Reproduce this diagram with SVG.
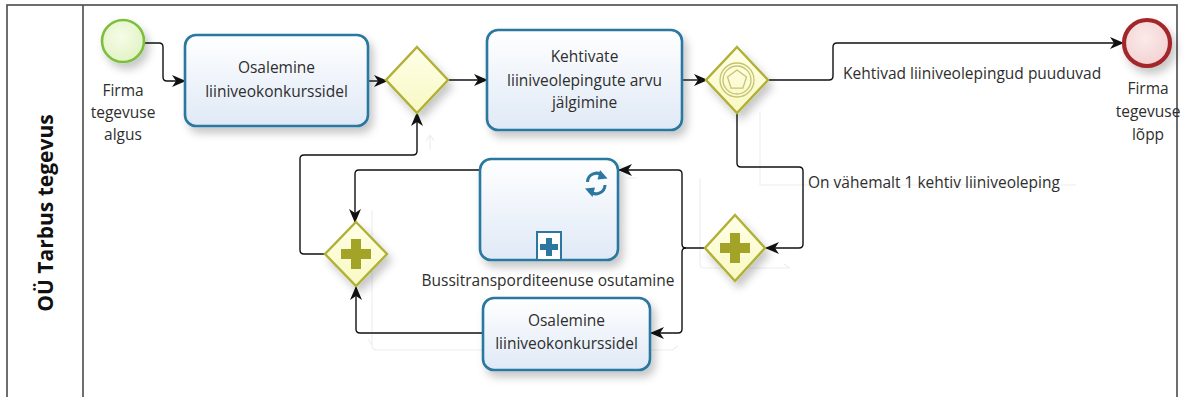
<svg xmlns="http://www.w3.org/2000/svg" width="1184" height="397" viewBox="0 0 1184 397">
  <defs>
    <style>
      .lbl { font-family: "Open Sans", "Noto Sans", sans-serif; font-size: 15.5px; fill: #2e2e2e; }
      .task { fill: url(#taskFill); stroke: #2b77a0; stroke-width: 2.6; filter: url(#shadow); }
      .gw { fill: url(#gwFill); stroke: #b0b036; stroke-width: 2.4; filter: url(#shadow); }
      .plus { fill: #a3a328; }
      .flow { fill: none; stroke: #111; stroke-width: 1.4; marker-end: url(#arrow); }
      .ghost { fill: none; stroke: #eceef1; stroke-width: 1.2; }
    </style>
    <linearGradient id="taskFill" x1="0" y1="0" x2="0" y2="1">
      <stop offset="0" stop-color="#ffffff"/>
      <stop offset="1" stop-color="#dfe9f6"/>
    </linearGradient>
    <linearGradient id="gwFill" x1="0" y1="0" x2="0" y2="1">
      <stop offset="0" stop-color="#ffffe8"/>
      <stop offset="1" stop-color="#f8f8c4"/>
    </linearGradient>
    <radialGradient id="startFill" cx="0.45" cy="0.4" r="0.6">
      <stop offset="0" stop-color="#f6fce8"/>
      <stop offset="1" stop-color="#e2f3c4"/>
    </radialGradient>
    <radialGradient id="endFill" cx="0.45" cy="0.4" r="0.6">
      <stop offset="0" stop-color="#fbeaea"/>
      <stop offset="1" stop-color="#f3d2d2"/>
    </radialGradient>
    <filter id="shadow" x="-20%" y="-20%" width="150%" height="160%">
      <feDropShadow dx="4" dy="6" stdDeviation="4" flood-color="#000" flood-opacity="0.22"/>
    </filter>
    <marker id="arrow" viewBox="0 0 14 12" refX="13" refY="6" markerWidth="14" markerHeight="12" markerUnits="userSpaceOnUse" orient="auto">
      <path d="M0,0 L14,6 L0,12 L4,6 z" fill="#111"/>
    </marker>
  </defs>

  <rect width="1184" height="397" fill="#fff"/>

  <!-- pool and lane header -->
  <g id="pool">
    <rect x="7" y="5" width="1170" height="400" fill="none" stroke="#4a4a4a" stroke-width="1.6"/>
    <line x1="83" y1="5" x2="83" y2="397" stroke="#4a4a4a" stroke-width="1.6"/>
    <text transform="translate(53,213) rotate(-90)" text-anchor="middle" font-family="'Open Sans', 'Noto Sans', sans-serif" font-size="21" font-weight="bold" fill="#111">OÜ Tarbus tegevus</text>
  </g>

  <!-- faint background routing -->
  <g id="ghosts">
    <path class="ghost" d="M430,150 V135 M430,135 l-4,6 M430,135 l4,6"/>
    <path class="ghost" d="M372,170 H620 M636,178 h-8 M700,178 V264 Q700,268 704,268 H790 M790,268 l-6,-4"/>
    <path class="ghost" d="M372,210 V345 Q372,350 377,350 H672 M372,345 l-4,-6 M672,350 l6,-4"/>
    <path class="ghost" d="M760,112 V185 H1076"/>
  </g>

  <!-- sequence flows -->
  <g id="connectors">
    <path class="flow" d="M145,43 H159 Q163,43 163,47 V77 Q163,81 167,81 H185"/>
    <path class="flow" d="M368,81 H387"/>
    <path class="flow" d="M448,80 H487"/>
    <path class="flow" d="M682,80 H707"/>
    <path class="flow" d="M768,80 H829 Q833,80 833,76 V47 Q833,43 837,43 H1123"/>
    <path class="flow" d="M737,113 V163 Q737,167 741,167 H799 Q803,167 803,171 V244 Q803,248 799,248 H766"/>
    <path class="flow" d="M705,248 H686 Q682,248 682,244 V174 Q682,170 678,170 H619"/>
    <path class="flow" d="M686,248 Q682,248 682,252 V329 Q682,333 678,333 H651"/>
    <path class="flow" d="M480,170 H359 Q355,170 355,174 V222"/>
    <path class="flow" d="M483,333 H360 Q356,333 356,329 V287"/>
    <path class="flow" d="M325,254 H304 Q300,254 300,250 V159 Q300,155 304,155 H413 Q417,155 417,151 V113"/>
    <text class="lbl" x="843" y="79">Kehtivad liiniveolepingud puuduvad</text>
    <text class="lbl" x="808" y="188">On vähemalt 1 kehtiv liiniveoleping</text>
  </g>

  <g id="start">
    <circle cx="123" cy="41" r="21" fill="url(#startFill)" stroke="#7cbf3c" stroke-width="2.6" filter="url(#shadow)"/>
    <text class="lbl" text-anchor="middle"><tspan x="123" y="96">Firma</tspan><tspan x="123" y="118">tegevuse</tspan><tspan x="123" y="140">algus</tspan></text>
  </g>

  <g id="task1">
    <rect class="task" x="185" y="35" width="183" height="91" rx="11"/>
    <text class="lbl" text-anchor="middle"><tspan x="276.5" y="73">Osalemine</tspan><tspan x="276.5" y="97">liiniveokonkurssidel</tspan></text>
  </g>

  <g id="gateway1">
    <path class="gw" d="M417,47 L448,80 L417,113 L386,80 z"/>
  </g>

  <g id="task2">
    <rect class="task" x="487" y="30" width="195" height="100" rx="11"/>
    <text class="lbl" text-anchor="middle"><tspan x="584.5" y="62">Kehtivate</tspan><tspan x="584.5" y="86">liiniveolepingute arvu</tspan><tspan x="584.5" y="108">jälgimine</tspan></text>
  </g>

  <g id="gateway2">
    <path class="gw" d="M737,47 L768,80 L737,113 L706,80 z"/>
    <g fill="none" stroke="#c4c46e" stroke-width="1.3">
      <circle cx="737" cy="80" r="17"/>
      <circle cx="737" cy="80" r="14"/>
      <path d="M737,70 L746.5,76.9 L742.9,88.1 L731.1,88.1 L727.5,76.9 z"/>
    </g>
  </g>

  <g id="end">
    <circle cx="1147" cy="43" r="23" fill="url(#endFill)" stroke="#a3262a" stroke-width="4.2" filter="url(#shadow)"/>
    <text class="lbl" text-anchor="middle"><tspan x="1148" y="94">Firma</tspan><tspan x="1148" y="117">tegevuse</tspan><tspan x="1148" y="140">lõpp</tspan></text>
  </g>

  <g id="fork">
    <path class="gw" d="M735,215 L765,248 L735,281 L705,248 z"/>
    <path class="plus" d="M730,233 h10 v10 h10 v10 h-10 v10 h-10 v-10 h-10 v-10 h10 z"/>
  </g>

  <g id="subprocess">
    <rect class="task" x="480" y="159" width="138" height="101" rx="11"/>
    <!-- loop marker -->
    <g fill="none" stroke="#2b77a0" stroke-width="3">
      <path d="M587.5,182 A9,9 0 0 1 603,176"/>
      <path d="M605,185 A9,9 0 0 1 589.5,191"/>
    </g>
    <path d="M600,170 L607.5,178.5 L597.5,179.5 z" fill="#2b77a0"/>
    <path d="M592.5,197 L585,188.5 L595,187.5 z" fill="#2b77a0"/>
    <!-- collapsed marker -->
    <rect x="537" y="232" width="24" height="28" fill="#fff" stroke="#2b77a0" stroke-width="2"/>
    <path d="M546,238 h6 v6 h6 v6 h-6 v6 h-6 v-6 h-6 v-6 h6 z" fill="#2b77a0"/>
    <text class="lbl" x="548" y="286" text-anchor="middle">Bussitransporditeenuse osutamine</text>
  </g>

  <g id="task4">
    <rect class="task" x="483" y="298" width="167" height="72" rx="11"/>
    <text class="lbl" text-anchor="middle"><tspan x="566.5" y="326">Osalemine</tspan><tspan x="566.5" y="349">liiniveokonkurssidel</tspan></text>
  </g>

  <g id="join">
    <path class="gw" d="M356,222 L387,254 L356,286 L325,254 z"/>
    <path class="plus" d="M351,239 h10 v10 h10 v10 h-10 v10 h-10 v-10 h-10 v-10 h10 z"/>
  </g>
</svg>
